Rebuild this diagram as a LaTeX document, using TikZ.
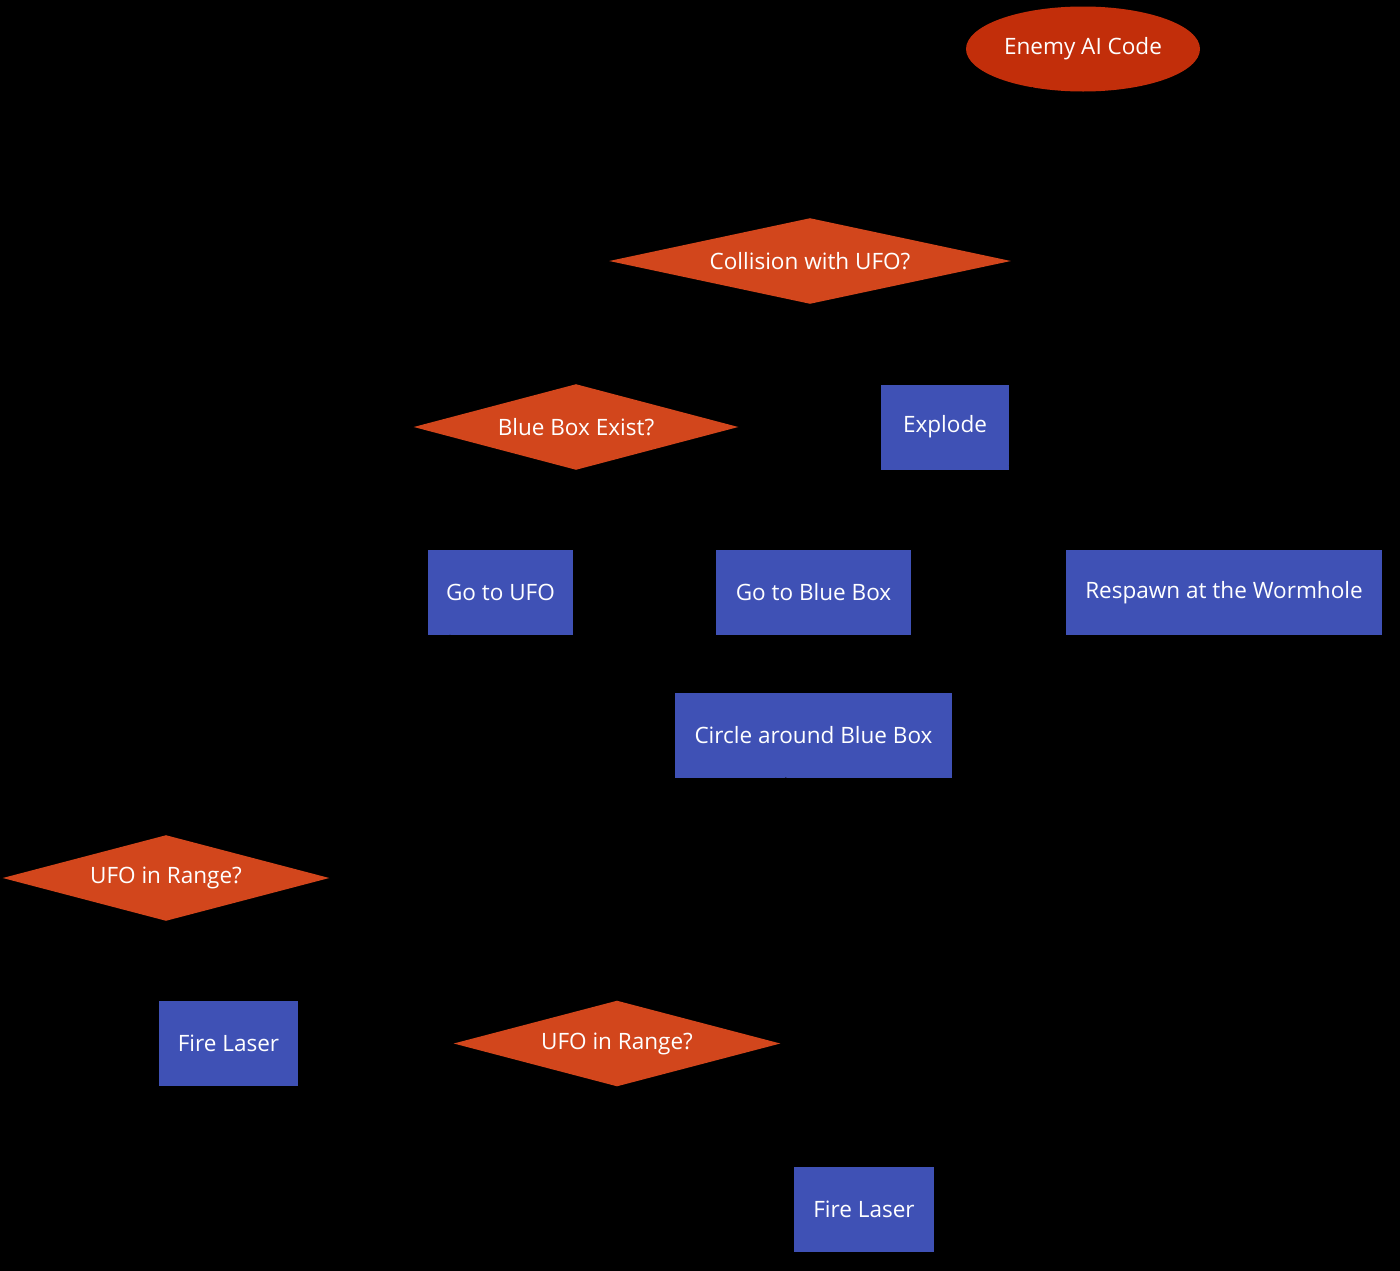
\documentclass[tikz,border=0pt]{standalone}
\usepackage{fontspec}
\setmainfont{Open Sans}
\usetikzlibrary{shapes.geometric,arrows.meta}
\definecolor{termred}{RGB}{194,46,10}
\definecolor{decred}{RGB}{210,70,28}
\definecolor{procblue}{RGB}{63,81,181}
\tikzset{
  base/.style={text=white,font=\fontsize{16.9}{20}\selectfont,inner sep=0pt},
  termnode/.style={base,ellipse,fill=termred,minimum width=234*0.75pt,minimum height=85*0.75pt},
  decnode/.style={base,rectangle,minimum width=#1*0.75pt,minimum height=85*0.75pt},
  procnode/.style={base,rectangle,fill=procblue,minimum width=#1*0.75pt,minimum height=85*0.75pt},
  conn/.style={draw=black,line width=1.2pt,-{Stealth[length=8pt,width=7pt]}}
}
\newcommand{\decshape}[1]{\fill[decred] (#1.west) -- (#1.north) -- (#1.east) -- (#1.south) -- cycle;}
\begin{document}
\begin{tikzpicture}[x=0.75pt,y=-0.75pt]
\fill[black] (0,0) rectangle (1400,1271);
\useasboundingbox (0,0) rectangle (1400,1271);
\node[termnode] (ai) at (1083,49) {Enemy AI Code};
\node[decnode=401] (coll) at (810,261) {};
\node[decnode=324] (bbe) at (576,427) {};
\node[procnode=128] (expl) at (945,427) {Explode};
\node[procnode=145] (goufo) at (500.5,592.5) {Go to UFO};
\node[procnode=195] (gobb) at (813.5,592.5) {Go to Blue Box};
\node[procnode=316] (resp) at (1224,592.5) {Respawn at the Wormhole};
\node[procnode=277] (circ) at (813.5,735) {Circle around Blue Box};
\node[decnode=326] (rng1) at (166,878) {};
\node[procnode=139] (fire1) at (228.5,1043.5) {Fire Laser};
\node[decnode=326] (rng2) at (617,1043.5) {};
\node[procnode=140] (fire2) at (864,1209) {Fire Laser};
\decshape{coll}
\decshape{bbe}
\decshape{rng1}
\decshape{rng2}
\node[base] (colltext) at (coll) {Collision with UFO?};
\node[base] (bbetext) at (bbe) {Blue Box Exist?};
\node[base] (rng1text) at (rng1) {UFO in Range?};
\node[base] (rng2text) at (rng2) {UFO in Range?};
\draw[conn] (ai) -- (coll);
\draw[conn] (coll) -- (expl);
\draw[conn] (coll) -- (bbe);
\draw[conn] (expl) -- (resp);
\draw[conn] (bbe) -- (goufo);
\draw[conn] (bbe) -- (gobb);
\draw[conn] (gobb) -- (circ);
\draw[conn] (goufo) -- (rng1);
\draw[conn] (rng1) -- (fire1);
\draw[conn] (circ) -- (rng2);
\draw[conn] (rng2) -- (fire2);
\end{tikzpicture}
\end{document}
